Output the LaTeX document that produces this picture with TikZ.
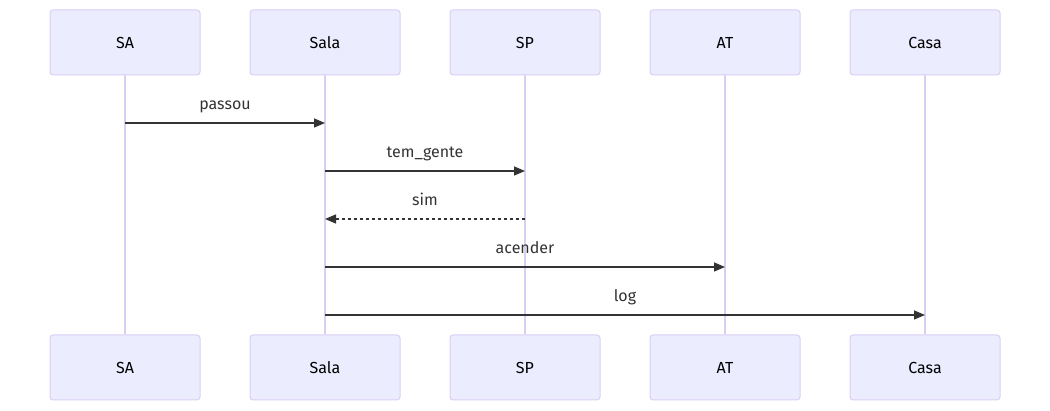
\documentclass[tikz,border=0pt]{standalone}
\usepackage{fontspec}
\setmainfont{Fira Sans}
\usetikzlibrary{arrows.meta, positioning}
\definecolor{actfill}{HTML}{ECECFF}
\definecolor{actline}{HTML}{DACEF3}
\definecolor{msgcol}{HTML}{333333}

\begin{document}
\begin{tikzpicture}[x=1pt, y=-1pt,
  actor/.style={draw=actline, fill=actfill, line width=1pt, rounded corners=3pt,
    minimum width=150pt, minimum height=65pt, inner sep=0pt,
    font=\fontsize{16}{19}\selectfont, text=black, text height=12pt, text depth=0pt},
  life/.style={draw=actline, line width=1.5pt},
  msg/.style={-{Triangle[length=11pt, width=9pt]}, draw=msgcol, line width=1.5pt},
  reply/.style={msg, dash pattern=on 3pt off 3pt},
  lbl/.style={midway, anchor=base, yshift=13pt, font=\fontsize{16}{19}\selectfont, text=msgcol}
]
\useasboundingbox (0,0) rectangle (1050,411);

% participants, top row
\node[actor] (saT)   at (125,42.5) {SA};
\node[actor] (salaT) at (325,42.5) {Sala};
\node[actor] (spT)   at (525,42.5) {SP};
\node[actor] (atT)   at (725,42.5) {AT};
\node[actor] (casaT) at (925,42.5) {Casa};

% participants, bottom row
\node[actor] (saB)   at (125,367.5) {SA};
\node[actor] (salaB) at (325,367.5) {Sala};
\node[actor] (spB)   at (525,367.5) {SP};
\node[actor] (atB)   at (725,367.5) {AT};
\node[actor] (casaB) at (925,367.5) {Casa};

% lifelines
\draw[life] (saT)   -- (saB);
\draw[life] (salaT) -- (salaB);
\draw[life] (spT)   -- (spB);
\draw[life] (atT)   -- (atB);
\draw[life] (casaT) -- (casaB);

% message rows
\coordinate (m1) at (0,123);
\coordinate (m2) at (0,171);
\coordinate (m3) at (0,219);
\coordinate (m4) at (0,267);
\coordinate (m5) at (0,315);

\draw[msg]   (saT |- m1)   -- (salaT |- m1) node[lbl]{passou};
\draw[msg]   (salaT |- m2) -- (spT |- m2)   node[lbl]{tem\_gente};
\draw[reply] (spT |- m3)   -- (salaT |- m3) node[lbl]{sim};
\draw[msg]   (salaT |- m4) -- (atT |- m4)   node[lbl]{acender};
\draw[msg]   (salaT |- m5) -- (casaT |- m5) node[lbl]{log};
\end{tikzpicture}
\end{document}
